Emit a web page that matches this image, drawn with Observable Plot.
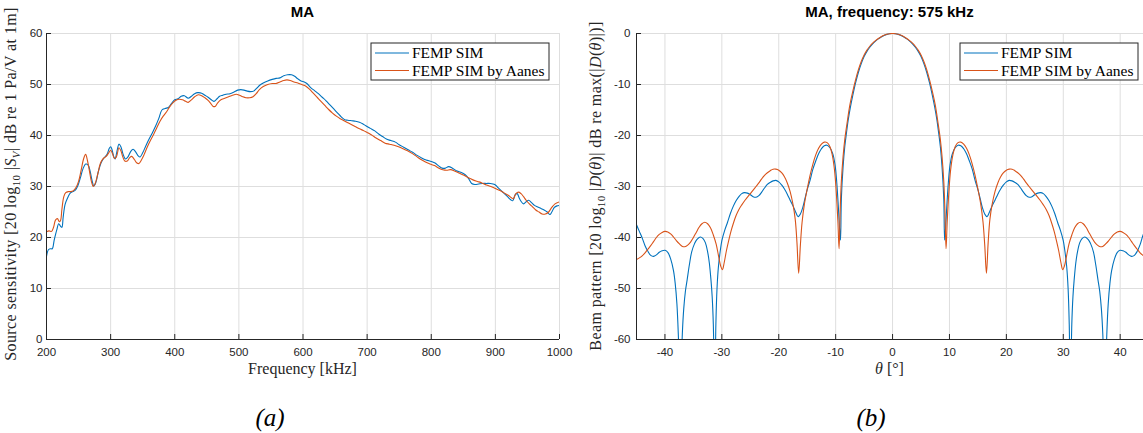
<!DOCTYPE html>
<html><head><meta charset="utf-8">
<script src="https://cdn.jsdelivr.net/npm/d3@7"></script>
<script src="https://cdn.jsdelivr.net/npm/@observablehq/plot@0.6"></script>
<style>
body{margin:0;background:#fff;overflow:hidden}
#fig{position:relative;width:1143px;height:433px;overflow:hidden}
#a,#b{position:absolute;top:0}
#a{left:0}
#b{left:580px}
.cap{position:absolute;top:405px;font:italic 25px "Liberation Serif",serif;line-height:1;color:#000;transform:translateX(-50%)}
</style></head><body>
<div id="fig"><div id="a"></div><div id="b"></div>
<div class="cap" style="left:270px">(a)</div><div class="cap" style="left:871px">(b)</div></div>
<script>
// ---------- Panel (a): source sensitivity [dB] vs frequency [kHz] ----------
const sensFemp = [[200,16.3],[203,17.6],[206,17.8],[209,17.8],[212,19.5],[216,21.5],[219,22.7],[222,22.2],[224,22.0],[226,24],[229,26.5],[233,27.8],[237,28.7],[241,29],[245,29.3],[249,30.2],[253,31.8],[257,33.5],[261,34.4],[265,34.2],[268,33],[271,31.2],[274,30.1],[277,30.8],[281,33],[285,34.6],[289,35.5],[294,36.2],[298,37.5],[300,37.8],[302,37.3],[305,35.8],[307,35.4],[310,37],[313,38.3],[316,37.8],[319,36.5],[323,35.4],[327,35.8],[331,36.8],[335,37.3],[339,36.8],[343,36],[346,35.8],[350,36.6],[355,38],[360,39.3],[365,40.5],[370,41.8],[375,43.3],[380,45],[385,45.3],[390,45.5],[395,46.3],[400,47],[405,47.2],[410,47.7],[415,47.8],[421,47.3],[426,47.7],[431,48.2],[436,48.4],[442,48.3],[447,47.9],[452,47.5],[457,47.0],[461,46.7],[466,47.2],[470,47.7],[475,47.9],[480,48.1],[486,48.2],[492,48.5],[498,48.9],[503,49.0],[508,48.9],[513,48.7],[518,48.6],[523,48.7],[528,49.3],[533,49.9],[538,50.3],[545,50.7],[552,51.0],[558,51.2],[564,51.3],[570,51.7],[576,51.9],[582,51.9],[587,51.6],[592,51.1],[597,50.7],[602,50.5],[606,50.2],[612,49.4],[618,48.8],[624,48.2],[630,47.5],[636,46.8],[642,46.0],[648,45.2],[654,44.4],[660,43.6],[665,43.1],[670,43.0],[676,42.9],[682,42.8],[688,42.6],[693,42.3],[698,41.9],[705,41.4],[712,40.9],[718,40.3],[724,39.8],[730,39.3],[737,39.0],[744,38.7],[750,38.2],[757,37.7],[764,37.2],[771,36.7],[778,36.1],[785,35.6],[792,35.2],[800,34.9],[806,34.6],[812,34.0],[817,33.6],[822,33.6],[827,33.9],[833,33.6],[839,33.1],[846,32.8],[853,32.3],[858,31.6],[863,30.6],[868,30.4],[874,30.5],[880,30.6],[886,30.6],[892,30.6],[899,30.4],[904,29.8],[909,29.2],[914,28.6],[919,28.0],[924,27.4],[927,27.2],[931,28.4],[934,28.6],[937,27.8],[940,27.1],[944,26.6],[948,27.0],[952,27.3],[956,26.9],[961,26.3],[966,26.0],[971,25.7],[976,25.4],[981,25.0],[985,24.5],[988,25.0],[992,25.9],[996,26.2],[1000,26.3]];

const sensAanes = [[200,21.1],[204,21.3],[208,21.2],[211,22.0],[214,23.4],[217,23.7],[220,23.1],[222,23.4],[224,25.5],[227,28.0],[230,28.8],[234,29.0],[238,29.0],[242,29.2],[246,29.8],[250,31.0],[254,33.2],[258,35.5],[261,36.3],[264,35.0],[267,33.0],[270,31.0],[273,30.0],[276,30.6],[280,32.5],[284,34.5],[288,35.4],[293,35.9],[297,36.6],[300,37.1],[303,36.4],[306,35.5],[309,35.8],[313,37.6],[316,37.0],[319,35.8],[322,35.0],[326,35.0],[330,35.7],[333,35.9],[337,35.3],[341,34.6],[344,34.5],[348,35.2],[352,36.2],[357,37.7],[362,39.0],[367,40.2],[372,41.5],[377,42.8],[382,43.8],[387,44.6],[392,45.6],[397,46.4],[402,46.9],[407,47.1],[412,47.0],[417,46.7],[421,46.5],[426,47.0],[431,47.6],[437,48.0],[442,47.8],[447,47.4],[452,46.9],[456,46.3],[460,45.7],[463,45.7],[467,46.4],[472,47.0],[478,47.3],[484,47.6],[490,47.9],[496,48.1],[501,47.9],[506,47.6],[511,47.4],[517,47.4],[522,47.6],[527,48.2],[532,49.0],[538,49.6],[545,50.0],[552,50.2],[558,50.2],[564,50.5],[570,50.8],[575,50.9],[580,50.8],[586,50.5],[592,50.3],[598,50.0],[604,49.7],[610,49.1],[616,48.3],[622,47.5],[628,46.7],[634,45.9],[640,45.1],[646,44.4],[652,43.8],[658,43.3],[664,42.9],[670,42.5],[676,42.1],[682,41.7],[688,41.3],[694,41.0],[700,40.6],[707,40.1],[714,39.5],[721,39.0],[728,38.5],[735,38.3],[742,38.1],[749,37.8],[756,37.4],[763,37.0],[770,36.5],[777,35.9],[784,35.3],[791,34.8],[798,34.4],[805,34.1],[812,33.6],[818,33.3],[824,33.2],[830,33.3],[837,33.0],[844,32.6],[851,32.2],[858,31.7],[865,31.3],[872,31.0],[879,30.7],[886,30.3],[893,30.0],[900,29.6],[907,29.2],[914,28.7],[920,28.3],[925,27.8],[928,27.6],[932,28.6],[936,28.9],[940,28.6],[944,28.0],[948,27.3],[953,26.6],[958,26.0],[963,25.4],[968,25.0],[973,24.6],[978,24.6],[983,25.0],[988,25.9],[993,26.6],[1000,27.0]];

const freqTicks = [200,300,400,500,600,700,800,900,1000];
const sensTicks = [0,10,20,30,40,50,60];

// ---------- Panel (b): beam pattern [dB] vs angle [deg] ----------
const beamFemp = [[-45,-37.5],[-44.5,-38.8],[-44,-40.1],[-43.5,-41.6],[-43,-42.7],[-42.5,-43.5],[-42,-43.7],[-41.5,-43.4],[-41,-42.9],[-40.5,-42.6],[-40,-42.5],[-39.5,-42.9],[-39,-44.2],[-38.5,-46.5],[-38.2,-49],[-37.9,-53],[-37.65,-59],[-37.3,-72],[-36.95,-59],[-36.7,-54],[-36.4,-50.5],[-36.1,-48.3],[-35.7,-45.3],[-35.3,-42.8],[-34.8,-41.2],[-34.4,-40.4],[-33.8,-39.9],[-33.3,-40.2],[-32.9,-41],[-32.5,-42.8],[-32.2,-45],[-31.9,-48.5],[-31.7,-51.6],[-31.5,-57],[-31.25,-72],[-31.05,-57],[-30.85,-50],[-30.6,-45.7],[-30.3,-42.8],[-30,-40.6],[-29.5,-38.6],[-29,-37],[-28.5,-35.3],[-28,-33.9],[-27.5,-32.8],[-27,-32],[-26.5,-31.4],[-26,-31.2],[-25.5,-31.3],[-25,-31.6],[-24.5,-32],[-24,-32.1],[-23.5,-31.8],[-23,-31.1],[-22.5,-30.3],[-22,-29.6],[-21.5,-29.2],[-21,-28.9],[-20.5,-28.8],[-20,-29.1],[-19.5,-29.7],[-19,-30.5],[-18.5,-31.5],[-18,-32.7],[-17.5,-33.8],[-17,-35.1],[-16.6,-35.9],[-16.2,-35.4],[-15.8,-34.2],[-15.4,-32.4],[-15,-30.6],[-14.5,-28.8],[-14,-26.6],[-13.5,-25.0],[-13,-23.6],[-12.5,-22.6],[-12,-22.0],[-11.5,-21.9],[-11,-22.4],[-10.5,-23.6],[-10.1,-25.8],[-9.8,-29.3],[-9.5,-34.5],[-9.3,-38.5],[-9.15,-40.5],[-9.0,-32.5],[-8.7,-26.2],[-8.4,-22.2],[-8.1,-19.5],[-7.8,-17],[-7.4,-14.4],[-7,-12.2],[-6.5,-9.7],[-6,-7.6],[-5.5,-5.9],[-5,-4.5],[-4.5,-3.5],[-4,-2.7],[-3.5,-2.05],[-3,-1.5],[-2.5,-1.05],[-2,-0.68],[-1.5,-0.38],[-1,-0.17],[-0.5,-0.04],[0,0],
[0.5,-0.04],[1,-0.17],[1.5,-0.38],[2,-0.68],[2.5,-1.05],[3,-1.5],[3.5,-2.05],[4,-2.7],[4.5,-3.5],[5,-4.5],[5.5,-5.9],[6,-7.6],[6.5,-9.7],[7,-12.2],[7.4,-14.4],[7.8,-17],[8.1,-19.5],[8.4,-22.2],[8.7,-26.2],[9.0,-32.5],[9.15,-40.5],[9.3,-38.5],[9.5,-34.5],[9.8,-29.3],[10.1,-25.8],[10.5,-23.6],[11,-22.4],[11.5,-21.9],[12,-22.0],[12.5,-22.6],[13,-23.6],[13.5,-25.0],[14,-26.6],[14.5,-28.8],[15,-30.6],[15.4,-32.4],[15.8,-34.2],[16.2,-35.4],[16.6,-35.9],[17,-35.1],[17.5,-33.8],[18,-32.7],[18.5,-31.5],[19,-30.5],[19.5,-29.7],[20,-29.1],[20.5,-28.8],[21,-28.9],[21.5,-29.2],[22,-29.6],[22.5,-30.3],[23,-31.1],[23.5,-31.8],[24,-32.1],[24.5,-32],[25,-31.6],[25.5,-31.3],[26,-31.2],[26.5,-31.4],[27,-32],[27.5,-32.8],[28,-33.9],[28.5,-35.3],[29,-37],[29.5,-38.6],[30,-40.6],[30.3,-42.8],[30.6,-45.7],[30.85,-50],[31.05,-57],[31.25,-72],[31.5,-57],[31.7,-51.6],[31.9,-48.5],[32.2,-45],[32.5,-42.8],[32.9,-41],[33.3,-40.2],[33.8,-39.9],[34.4,-40.4],[34.8,-41.2],[35.3,-42.8],[35.7,-45.3],[36.1,-48.3],[36.4,-50.5],[36.7,-54],[36.95,-59],[37.3,-72],[37.65,-59],[37.9,-53],[38.2,-49],[38.5,-46.5],[39,-44.2],[39.5,-42.9],[40,-42.5],[40.5,-42.6],[41,-42.9],[41.5,-43.4],[42,-43.7],[42.5,-43.5],[43,-42.7],[43.5,-41.4],[44,-39.6],[44.5,-38.2]];

const beamAanes = [[-45,-44.3],[-44.5,-44.0],[-44,-43.6],[-43.5,-43.0],[-43,-42.3],[-42.5,-41.6],[-42,-40.8],[-41.5,-40.0],[-41,-39.4],[-40.5,-39.0],[-40,-38.8],[-39.5,-38.9],[-39,-39.3],[-38.5,-39.9],[-38,-40.6],[-37.5,-41.2],[-37,-41.7],[-36.5,-41.8],[-36,-41.5],[-35.5,-40.9],[-35,-40.0],[-34.5,-39.0],[-34,-38.0],[-33.5,-37.3],[-33,-37.0],[-32.5,-37.3],[-32,-38.1],[-31.5,-39.5],[-31,-41.3],[-30.6,-43.5],[-30.2,-45.6],[-29.9,-46.3],[-29.6,-45.0],[-29.2,-42.6],[-28.8,-40.6],[-28.4,-38.8],[-28,-37.3],[-27.5,-35.7],[-27,-34.5],[-26.5,-33.6],[-26,-32.8],[-25.5,-32.1],[-25,-31.4],[-24.5,-30.7],[-24,-30.0],[-23.5,-29.3],[-23,-28.5],[-22.5,-27.8],[-22,-27.3],[-21.5,-26.9],[-21,-26.6],[-20.5,-26.6],[-20,-26.8],[-19.5,-27.3],[-19,-28.1],[-18.5,-29.3],[-18,-31.0],[-17.5,-33.5],[-17.1,-36.5],[-16.8,-41],[-16.5,-47],[-16.2,-41.5],[-15.9,-37],[-15.5,-33.5],[-15,-30.5],[-14.5,-27.8],[-14,-25.6],[-13.5,-23.8],[-13,-22.5],[-12.5,-21.7],[-12,-21.3],[-11.5,-21.4],[-11,-22.2],[-10.6,-23.8],[-10.2,-26.8],[-9.9,-31],[-9.6,-37],[-9.4,-42.2],[-9.2,-34.5],[-9.0,-29],[-8.7,-24.2],[-8.4,-20.8],[-8,-17.6],[-7.5,-14.0],[-7,-11.4],[-6.5,-9.1],[-6,-7.1],[-5.5,-5.5],[-5,-4.2],[-4.5,-3.25],[-4,-2.5],[-3.5,-1.9],[-3,-1.4],[-2.5,-0.97],[-2,-0.63],[-1.5,-0.35],[-1,-0.16],[-0.5,-0.04],[0,0],
[0.5,-0.04],[1,-0.16],[1.5,-0.35],[2,-0.63],[2.5,-0.97],[3,-1.4],[3.5,-1.9],[4,-2.5],[4.5,-3.25],[5,-4.2],[5.5,-5.5],[6,-7.1],[6.5,-9.1],[7,-11.4],[7.5,-14.0],[8,-17.6],[8.4,-20.8],[8.7,-24.2],[9.0,-29],[9.2,-34.5],[9.4,-42.2],[9.6,-37],[9.9,-31],[10.2,-26.8],[10.6,-23.8],[11,-22.2],[11.5,-21.4],[12,-21.3],[12.5,-21.7],[13,-22.5],[13.5,-23.8],[14,-25.6],[14.5,-27.8],[15,-30.5],[15.5,-33.5],[15.9,-37],[16.2,-41.5],[16.5,-47],[16.8,-41],[17.1,-36.5],[17.5,-33.5],[18,-31.0],[18.5,-29.3],[19,-28.1],[19.5,-27.3],[20,-26.8],[20.5,-26.6],[21,-26.6],[21.5,-26.9],[22,-27.3],[22.5,-27.8],[23,-28.5],[23.5,-29.3],[24,-30.0],[24.5,-30.7],[25,-31.4],[25.5,-32.1],[26,-32.8],[26.5,-33.6],[27,-34.5],[27.5,-35.7],[28,-37.3],[28.4,-38.8],[28.8,-40.6],[29.2,-42.6],[29.6,-45.0],[29.9,-46.3],[30.2,-45.6],[30.6,-43.5],[31,-41.3],[31.5,-39.5],[32,-38.1],[32.5,-37.3],[33,-37.0],[33.5,-37.3],[34,-38.0],[34.5,-39.0],[35,-40.0],[35.5,-40.9],[36,-41.5],[36.5,-41.8],[37,-41.7],[37.5,-41.2],[38,-40.6],[38.5,-39.9],[39,-39.3],[39.5,-38.9],[40,-38.8],[40.5,-39.0],[41,-39.4],[41.5,-40.0],[42,-40.8],[42.5,-41.6],[43,-42.3],[43.5,-43.0],[44,-43.5],[44.5,-43.9]];

const thetaTicks = [-40,-30,-20,-10,0,10,20,30,40];
const beamTicks = [-60,-50,-40,-30,-20,-10,0];

const seriesNames = ["FEMP SIM", "FEMP SIM by Aanes"];
const seriesColors = ["#0072BD", "#D95319"];

const SERIF = "'Liberation Serif', 'Times New Roman', serif";
const SANS = "'Liberation Sans', Arial, sans-serif";
const AXC = "#262626";

function rich(textSel, parts) {
  let shifted = false;
  for (const p of parts) {
    const t = textSel.append("tspan").text(p.t);
    if (p.i) t.attr("font-style", "italic");
    if (p.sub) { t.attr("dy", 4).attr("font-size", "11px"); shifted = true; }
    else if (shifted) { t.attr("dy", -4); shifted = false; }
  }
}

function panel(o) {
  const pw = o.width - o.mL - o.mR, ph = o.height - o.mT - o.mB;
  const svg = Plot.plot({
    width: o.width, height: o.height,
    marginLeft: o.mL, marginRight: o.mR, marginTop: o.mT, marginBottom: o.mB,
    x: {domain: o.xDomain}, y: {domain: o.yDomain},
    style: {fontFamily: SANS, fontSize: "11.5px", color: AXC, background: "transparent", overflow: "visible"},
    marks: [
      Plot.gridX(o.xTicks, {stroke: "#dedede", strokeOpacity: 1}),
      Plot.gridY(o.yTicks, {stroke: "#dedede", strokeOpacity: 1}),
      ...o.series.map((s, i) => Plot.line(s, {x: d => d[0], y: d => d[1], stroke: seriesColors[i], strokeWidth: 1.1, curve: "catmull-rom", clip: true})),
      Plot.ruleX([o.xDomain[0]], {stroke: AXC, strokeWidth: 1}),
      Plot.ruleY([o.yDomain[0]], {stroke: AXC, strokeWidth: 1}),
      Plot.tickX(o.xTicks, {x: d => d, insetTop: ph - 5, stroke: AXC}),
      Plot.tickY(o.yTicks, {y: d => d, insetRight: pw - 5, stroke: AXC}),
      Plot.axisX(o.xTicks, {tickSize: 0, tickPadding: 8, tickFormat: d => String(d), label: null, fontSize: 11.5, fill: AXC}),
      Plot.axisY(o.yTicks, {tickSize: 0, tickPadding: o.yPad, tickFormat: d => String(d), label: null, fontSize: 11.5, fill: AXC})
    ]
  });
  const s = d3.select(svg);
  const cx = o.mL + pw / 2;
  // title
  s.append("text").attr("x", cx).attr("y", 17).attr("text-anchor", "middle")
    .attr("font-family", SANS).attr("font-weight", "bold").attr("font-size", "15px").attr("fill", "#000").text(o.title);
  // x label
  const xl = s.append("text").attr("x", cx).attr("y", 374).attr("text-anchor", "middle")
    .attr("font-family", SERIF).attr("font-size", "16px").attr("fill", AXC);
  rich(xl, o.xLabel);
  // y label
  const yl = s.append("text").attr("transform", `translate(${o.yLabelX},${o.yLabelY}) rotate(-90)`).attr("text-anchor", "middle")
    .attr("font-family", SERIF).attr("font-size", "16px").attr("letter-spacing", "0.4px").attr("fill", AXC);
  rich(yl, o.yLabel);
  // legend
  const g = s.append("g").attr("transform", `translate(${o.legX},43)`);
  g.append("rect").attr("width", 178).attr("height", 37).attr("fill", "#fff").attr("stroke", AXC).attr("stroke-width", 1);
  seriesNames.forEach((n, i) => {
    const y = 10 + i * 17.5;
    g.append("line").attr("x1", 4).attr("x2", 38).attr("y1", y).attr("y2", y).attr("stroke", seriesColors[i]).attr("stroke-width", 1.2);
    g.append("text").attr("x", 41).attr("y", y + 5).attr("text-anchor", "start")
      .attr("font-family", SERIF).attr("font-size", "15.5px").attr("fill", "#000").text(n);
  });
  o.el.append(svg);
}

panel({
  el: document.getElementById("a"), width: 580, height: 380, mL: 46, mR: 21, mT: 33, mB: 41,
  xDomain: [200, 1000], yDomain: [0, 60], xTicks: freqTicks, yTicks: sensTicks, yPad: 4,
  series: [sensFemp, sensAanes], title: "MA",
  xLabel: [{t: "Frequency [kHz]"}],
  yLabel: [{t: "Source sensitivity [20 log"}, {t: "10", sub: true}, {t: " |"}, {t: "S", i: true}, {t: "V", i: true, sub: true}, {t: "| dB re 1 Pa/V at 1m]"}],
  yLabelX: 16, yLabelY: 184, legX: 371
});

panel({
  el: document.getElementById("b"), width: 563, height: 380, mL: 56, mR: 0, mT: 33, mB: 41,
  xDomain: [-45, 44.1], yDomain: [-60, 0], xTicks: thetaTicks, yTicks: beamTicks, yPad: 6,
  series: [beamFemp, beamAanes], title: "MA, frequency: 575 kHz",
  xLabel: [{t: "θ", i: true}, {t: " [°]"}],
  yLabel: [{t: "Beam pattern [20 log"}, {t: "10", sub: true}, {t: " |"}, {t: "D", i: true}, {t: "("}, {t: "θ", i: true}, {t: ")| dB re max(|"}, {t: "D", i: true}, {t: "("}, {t: "θ", i: true}, {t: ")|)]"}],
  yLabelX: 21, yLabelY: 186, legX: 380
});
</script></body></html>
